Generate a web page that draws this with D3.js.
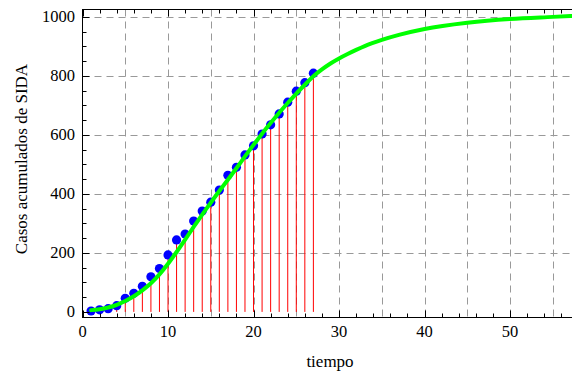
<!DOCTYPE html>
<html>
<head>
<meta charset="utf-8">
<script src="https://cdn.jsdelivr.net/npm/d3@7"></script>
<style>
  body { margin: 0; background: #fff; }
  text { font-family: "Liberation Serif", "DejaVu Serif", serif; fill: #000; }
</style>
</head>
<body>
<div id="chart"></div>
<script>
// observed cases (tiempo 1..27)
const tiempo = d3.range(1, 28);
const casos = [3, 7, 11, 21, 46, 63, 87, 119, 147, 193, 244, 264, 308, 342, 372,
  413, 463, 490, 532, 563, 603, 634, 671, 711, 748, 777, 809];

// fitted curve
const curveT = [1, 2, 3, 4, 5, 6, 7, 8, 9, 10, 11, 12, 13, 14, 15, 16, 17, 18, 19, 20,
  21, 22, 23, 24, 25, 26, 27, 28, 29, 30, 31, 32, 33, 35, 37, 40, 45, 50, 55, 57.3];
const curveV = [6, 9, 15, 24, 37, 53, 73, 97, 127, 163, 203, 245, 288, 330, 370, 410,
  448, 487, 527, 566, 604, 640, 675, 708, 740, 770, 799, 822, 842, 859, 874, 888, 901,
  922, 939, 959, 980, 993, 1000, 1003];

const xMajor = [0, 10, 20, 30, 40, 50];
const yMajor = [0, 200, 400, 600, 800, 1000];
const xGrid = [5, 10, 15, 20, 25, 30, 35, 40, 45, 50, 55];
const yGrid = [200, 400, 600, 800, 1000];

const width = 572, height = 378;
const mLeft = 82.5, mRight = 572.5, mTop = 9.5, mBottom = 317.5;

const svg = d3.select('#chart').append('svg')
  .attr('width', width)
  .attr('height', height);

const x = d3.scaleLinear().domain([0, 57.3]).range([mLeft, mRight]);
const y = d3.scaleLinear().domain([-19, 1025]).range([mBottom, mTop]);

// grid
const grid = svg.append('g')
  .attr('stroke', '#999')
  .attr('stroke-width', 1)
  .attr('stroke-dasharray', '7,5');
grid.selectAll('line.gx')
  .data(xGrid)
  .join('line')
    .attr('class', 'gx')
    .attr('x1', d => Math.round(x(d)) + 0.5)
    .attr('x2', d => Math.round(x(d)) + 0.5)
    .attr('y1', mTop)
    .attr('y2', mBottom);
grid.selectAll('line.gy')
  .data(yGrid)
  .join('line')
    .attr('class', 'gy')
    .attr('y1', d => Math.round(y(d)) + 0.5)
    .attr('y2', d => Math.round(y(d)) + 0.5)
    .attr('x1', mLeft)
    .attr('x2', mRight);

// red fill lines to axis
svg.append('g')
  .attr('stroke', '#ff0000')
  .attr('stroke-width', 1)
  .selectAll('line')
  .data(tiempo)
  .join('line')
    .attr('x1', d => x(d))
    .attr('x2', d => x(d))
    .attr('y1', y(0))
    .attr('y2', (d, i) => y(casos[i]));

// points
svg.append('g')
  .attr('fill', '#0000ff')
  .selectAll('circle')
  .data(tiempo)
  .join('circle')
    .attr('cx', d => x(d))
    .attr('cy', (d, i) => y(casos[i]))
    .attr('r', 4.6);

// fitted curve
const line = d3.line()
  .x(d => x(d[0]))
  .y(d => y(d[1]))
  .curve(d3.curveMonotoneX);
svg.append('path')
  .datum(curveT.map((t, i) => [t, curveV[i]]))
  .attr('fill', 'none')
  .attr('stroke', '#00ff00')
  .attr('stroke-width', 4)
  .attr('stroke-linecap', 'round')
  .attr('d', line);

// frame
svg.append('rect')
  .attr('x', mLeft).attr('y', mTop)
  .attr('width', mRight - mLeft).attr('height', mBottom - mTop)
  .attr('fill', 'none')
  .attr('stroke', '#000')
  .attr('stroke-width', 1);

// ticks (inside, Mathematica style)
const xMinor = d3.range(0, 58, 2).filter(v => v % 10 !== 0);
const yMinor = d3.range(0, 1001, 50).filter(v => v % 200 !== 0);
const ticks = svg.append('g').attr('stroke', '#000').attr('stroke-width', 1);
function xTicks(vals, len) {
  vals.forEach(v => {
    const px = Math.round(x(v)) + 0.5;
    ticks.append('line').attr('x1', px).attr('x2', px).attr('y1', mBottom).attr('y2', mBottom - len);
    ticks.append('line').attr('x1', px).attr('x2', px).attr('y1', mTop).attr('y2', mTop + len);
  });
}
function yTicks(vals, len) {
  vals.forEach(v => {
    const py = Math.round(y(v)) + 0.5;
    ticks.append('line').attr('y1', py).attr('y2', py).attr('x1', mLeft).attr('x2', mLeft + len);
  });
}
xTicks(xMajor, 7);
xTicks(xMinor, 4);
yTicks(yMajor, 7);
yTicks(yMinor, 4);

// tick labels
svg.append('g')
  .selectAll('text')
  .data(xMajor)
  .join('text')
    .attr('x', d => x(d))
    .attr('y', 337)
    .attr('text-anchor', 'middle')
    .attr('font-size', 16.5)
    .text(d => d);
svg.append('g')
  .selectAll('text')
  .data(yMajor)
  .join('text')
    .attr('x', 75)
    .attr('y', d => y(d) + 5.5)
    .attr('text-anchor', 'end')
    .attr('font-size', 16.5)
    .text(d => d);

// axis titles
svg.append('text')
  .attr('x', 330)
  .attr('y', 367)
  .attr('text-anchor', 'middle')
  .attr('font-size', 17)
  .text('tiempo');
svg.append('text')
  .attr('transform', 'translate(27,159) rotate(-90)')
  .attr('text-anchor', 'middle')
  .attr('font-size', 17)
  .text('Casos acumulados de SIDA');
</script>
</body>
</html>
